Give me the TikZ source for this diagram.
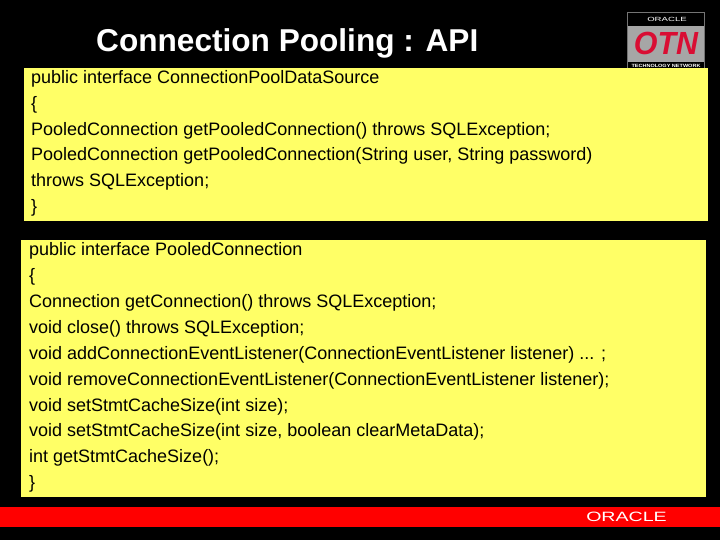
\documentclass[tikz,border=0pt]{standalone}
\usepackage{fontspec}
\setmainfont{Liberation Sans}
\usepackage{tikz}
\usetikzlibrary{positioning}
\definecolor{myellow}{rgb}{1, 1, 0.4}
\definecolor{mred}{rgb}{1, 0, 0}
\definecolor{mgrey}{rgb}{0.65, 0.65, 0.65}
\definecolor{motn}{rgb}{0.85, 0.05, 0.2}
\tikzset{codeline/.style = {anchor = base west, inner sep = 0, font = \fontsize{18}{18}\selectfont}}
\begin{document}
\begin{tikzpicture}[x=1pt, y=-1pt]
      \useasboundingbox (0, 0) rectangle (720, 540);
      \fill [black] (0, 0) rectangle (720, 540);

      \node [anchor = base west, inner sep = 0, white, font = \fontsize{31.6}{32}\bfseries\selectfont] (title) at (96, 51.5) {Connection Pooling : API};

      % logo
      \draw [mgrey!70!black, fill=black] (627.5, 12.5) rectangle (704.5, 68);
      \fill [mgrey] (628, 26) rectangle (704, 62);
      \node [white, inner sep = 0, xscale=1.6, font = \fontsize{6}{6}\selectfont] (logotop) at (667, 19) {ORACLE};
      \node [motn, inner sep = 0, xscale=0.95, font = \fontsize{32}{32}\bfseries\itshape\selectfont] (otn) at (666, 43.5) {OTN};
      \node [white, inner sep = 0, xscale=1.2, font = \fontsize{4.6}{5}\bfseries\selectfont] (network) at (666, 65.5) {TECHNOLOGY NETWORK};

      % first box
      \fill [myellow] (24, 68) rectangle (708, 221);
      \node [codeline] (a1) at (31, 83.5) {public interface ConnectionPoolDataSource};
      \node [codeline] (a2) at (31, 109.5) {\{};
      \node [codeline] (a3) at (31, 135.5) {PooledConnection getPooledConnection() throws SQLException;};
      \node [codeline] (a4) at (31, 161) {PooledConnection getPooledConnection(String user, String password)};
      \node [codeline] (a5) at (31, 187) {throws SQLException;};
      \node [codeline] (a6) at (31, 213) {\}};

      % second box
      \fill [myellow] (21, 240) rectangle (706, 497);
      \node [codeline] (b1) at (29, 255.5) {public interface PooledConnection};
      \node [codeline] (b2) at (29, 281.5) {\{};
      \node [codeline] (b3) at (29, 307.5) {Connection getConnection() throws SQLException;};
      \node [codeline] (b4) at (29, 333) {void close() throws SQLException;};
      \node [codeline] (b5) at (29, 359) {void addConnectionEventListener(ConnectionEventListener listener) ... ;};
      \node [codeline] (b6) at (29, 385) {void removeConnectionEventListener(ConnectionEventListener listener);};
      \node [codeline] (b7) at (29, 411) {void setStmtCacheSize(int size);};
      \node [codeline] (b8) at (29, 436.5) {void setStmtCacheSize(int size, boolean clearMetaData);};
      \node [codeline] (b9) at (29, 462.5) {int getStmtCacheSize();};
      \node [codeline] (b10) at (29, 488.5) {\}};

      % bottom bar
      \fill [mred] (0, 507) rectangle (720, 527);
      \node [white, inner sep = 0, xscale=1.45, font = \fontsize{13.5}{14}\selectfont] (oracle) at (626.5, 517) {ORACLE};
\end{tikzpicture}
\end{document}
